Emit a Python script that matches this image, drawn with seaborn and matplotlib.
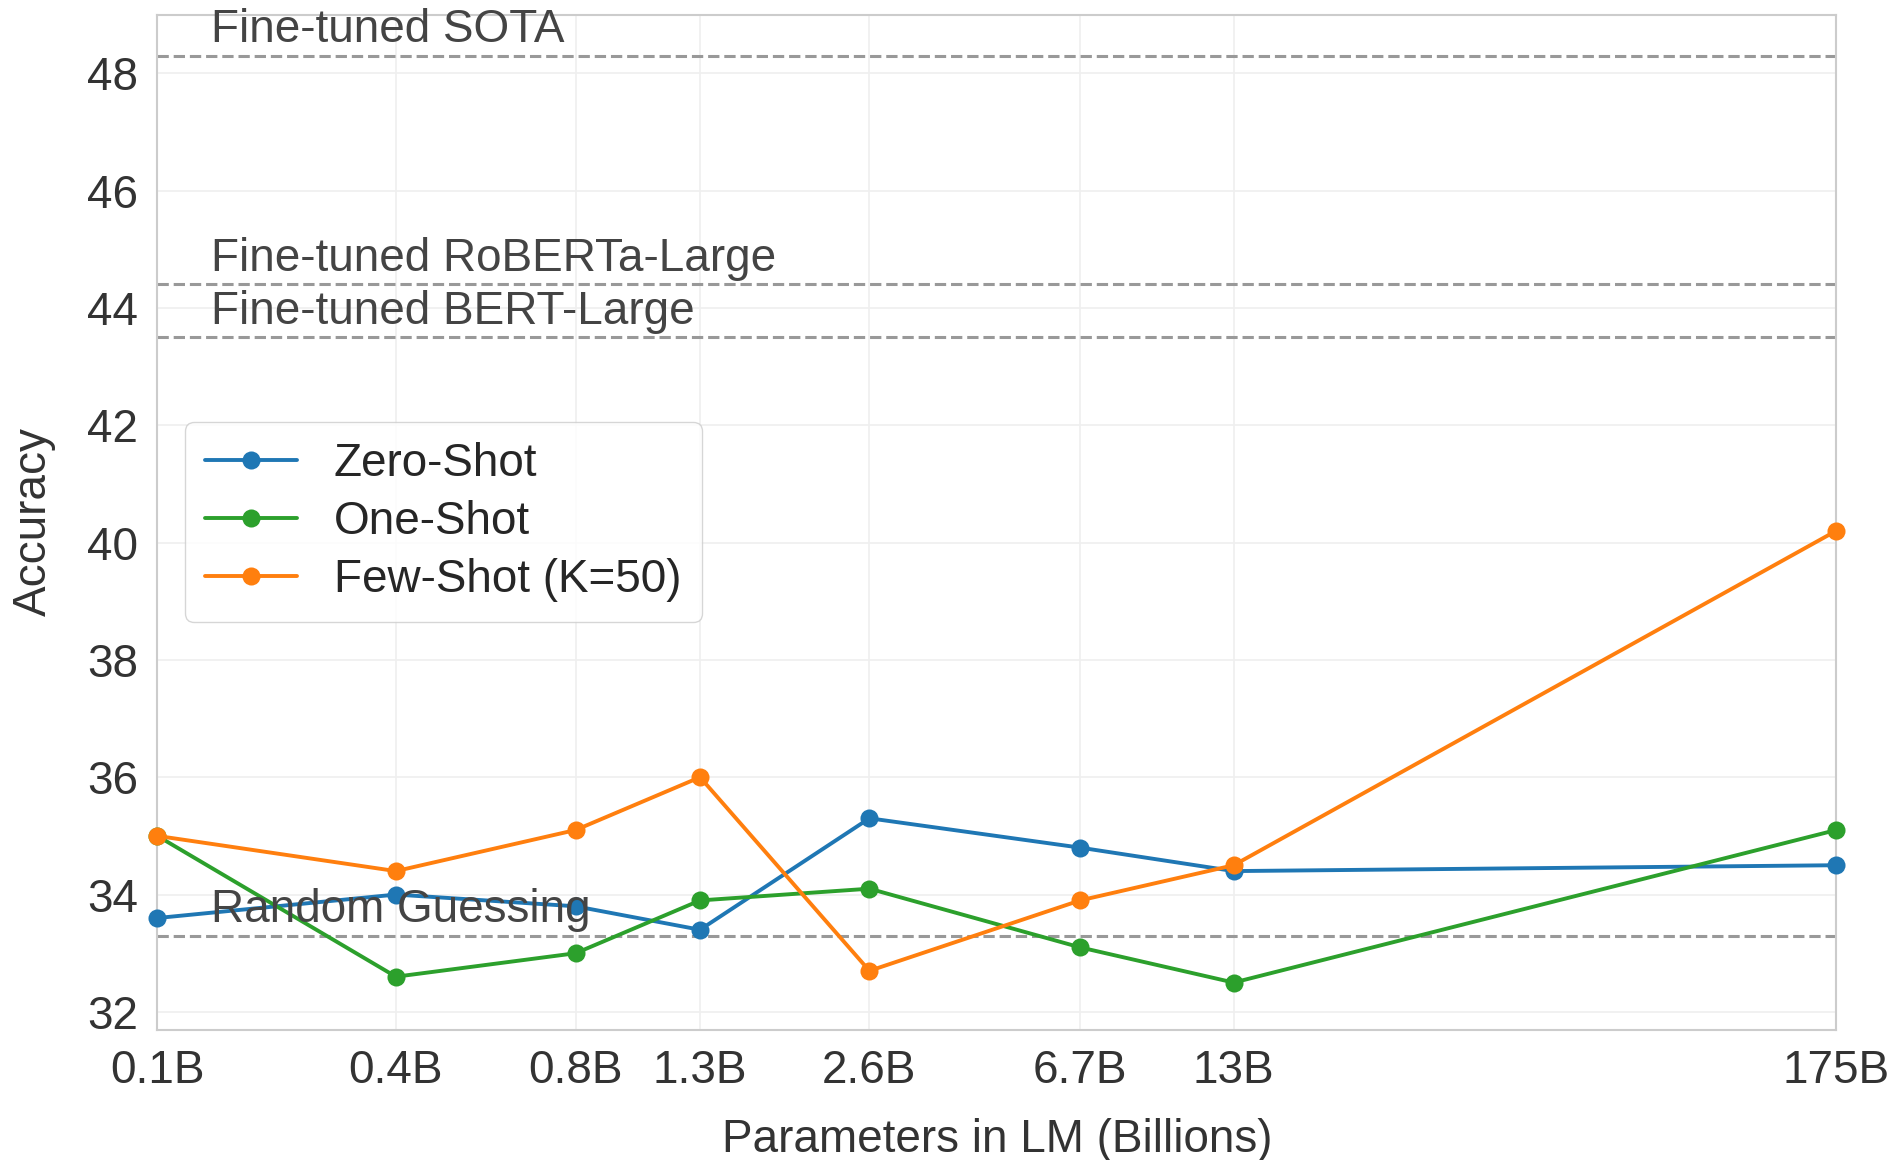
import pandas as pd
import matplotlib
matplotlib.use("Agg")
import matplotlib.pyplot as plt
import matplotlib.transforms as mtransforms
import seaborn as sns

# ------------------------------
# Data
# ------------------------------
params = [0.125, 0.35, 0.76, 1.3, 2.7, 6.7, 13, 175]
tick_labels = ["0.1B", "0.4B", "0.8B", "1.3B", "2.6B", "6.7B", "13B", "175B"]

zero_shot = [33.6, 34.0, 33.8, 33.4, 35.3, 34.8, 34.4, 34.5]
one_shot = [35.0, 32.6, 33.0, 33.9, 34.1, 33.1, 32.5, 35.1]
few_shot = [35.0, 34.4, 35.1, 36.0, 32.7, 33.9, 34.5, 40.2]

series_names = ["Zero-Shot", "One-Shot", "Few-Shot (K=50)"]
series_colors = ["#1f77b4", "#2ca02c", "#ff7f0e"]

ref_names = ["Fine-tuned SOTA", "Fine-tuned RoBERTa-Large",
             "Fine-tuned BERT-Large", "Random Guessing"]
ref_values = [48.3, 44.4, 43.5, 33.3]

df = pd.DataFrame({
    "params": params * 3,
    "acc": zero_shot + one_shot + few_shot,
    "setting": [n for n in series_names for _ in params],
})

# ------------------------------
# Plot
# ------------------------------
sns.set_theme(style="whitegrid")
plt.rcParams["font.family"] = ["Liberation Sans", "DejaVu Sans"]
fs = 33

fig, ax = plt.subplots(figsize=(18.95, 11.6), dpi=100)
fig.subplots_adjust(left=0.083, right=0.969, top=0.9875, bottom=0.1125)

sns.lineplot(data=df, x="params", y="acc", hue="setting",
             hue_order=series_names, palette=series_colors,
             marker="o", markersize=13, markeredgewidth=0, linewidth=2.8,
             ax=ax, clip_on=False, zorder=3)

trans = mtransforms.blended_transform_factory(ax.transAxes, ax.transData)
for name, val in zip(ref_names, ref_values):
    ax.axhline(val, color="#999999", linestyle="--", linewidth=2.2, zorder=2)
    ax.text(0.032, val + 0.06, name, transform=trans, fontsize=fs,
            color="#444444", va="bottom", ha="left", zorder=4)

ax.set_xscale("log")
ax.set_xlim(params[0], params[-1])
ax.set_xticks(params)
ax.set_xticklabels(tick_labels)
ax.minorticks_off()
ax.set_ylim(31.7, 49.0)
ax.set_yticks(range(32, 49, 2))
ax.tick_params(labelsize=fs, colors="#333333", pad=8)

ax.set_xlabel("Parameters in LM (Billions)", fontsize=fs, color="#333333",
              labelpad=18)
ax.set_ylabel("Accuracy", fontsize=fs, color="#333333", labelpad=22)

ax.grid(True, color="#efefef", linewidth=1.2)
for sp in ax.spines.values():
    sp.set_color("#cccccc")
    sp.set_linewidth(1.5)

ax.legend(loc="center left", fontsize=fs, frameon=True, handlelength=2.0,
          borderpad=0.45, labelspacing=0.3, handletextpad=0.8,
          bbox_to_anchor=(0.0, 0.5), borderaxespad=0.6)

fig.savefig("out.png", dpi=100)
